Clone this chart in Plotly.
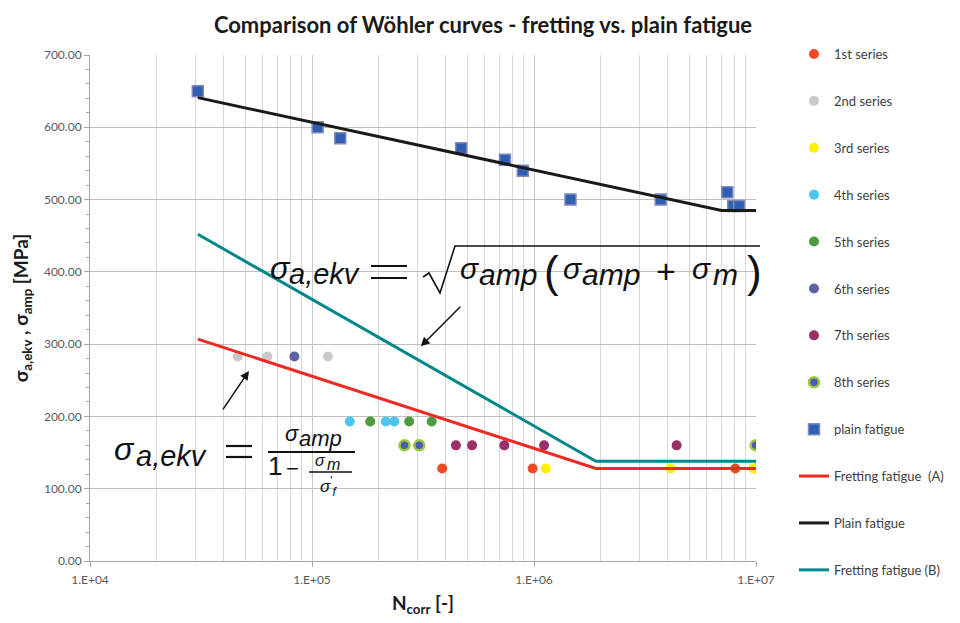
import plotly.graph_objects as go

# ---------------- data ----------------
s1_N = [3.86e5, 9.86e5, 8.07e6, 1.0e7]
s1_S = [128, 128, 128, 128]
s2_N = [4.63e4, 6.3e4, 1.18e5]
s2_S = [283, 283, 283]
s3_N = [1.13e6, 4.13e6, 9.72e6]
s3_S = [128, 128, 128]
s4_N = [1.48e5, 2.15e5, 2.35e5]
s4_S = [193, 193, 193]
s5_N = [1.83e5, 2.74e5, 3.46e5]
s5_S = [193, 193, 193]
s6_N = [8.33e4]
s6_S = [283]
s7_N = [4.45e5, 5.26e5, 7.35e5, 1.11e6, 4.39e6]
s7_S = [160, 160, 160, 160, 160]
s8_N = [2.61e5, 3.04e5, 9.96e6]
s8_S = [160, 160, 160]
plain_N = [3.06e4, 1.06e5, 1.34e5, 4.7e5, 7.4e5, 8.9e5, 1.46e6, 3.72e6, 7.43e6, 7.9e6, 8.4e6]
plain_S = [650, 600, 585, 571, 555, 540, 500, 500, 510, 491, 491]

fretA_N = [3.06e4, 1.9e6, 1.0e7]
fretA_S = [307, 128, 128]
plainL_N = [3.06e4, 7.0e6, 1.0e7]
plainL_S = [641, 485, 485]
fretB_N = [3.06e4, 1.9e6, 1.0e7]
fretB_S = [452, 138, 138]

x_major = [1e4, 1e5, 1e6, 1e7]
x_major_text = ["1.E+04", "1.E+05", "1.E+06", "1.E+07"]
x_minor = [m * 10**k for k in range(4, 7) for m in range(2, 10)]

FONT = "Lato"
MATH = "Liberation Sans, Arial, sans-serif"
fig = go.Figure()

def dots(name, N, S, color, line_color=None, line_width=0):
    fig.add_trace(go.Scatter(
        x=N, y=S, mode="markers", name=name, legendgroup=name,
        marker=dict(symbol="circle", size=10, color=color,
                    line=dict(color=line_color or color, width=line_width))))

dots("1st series", s1_N, s1_S, "#F04A25")
dots("2nd series", s2_N, s2_S, "#C9C9C9")
dots("3rd series", s3_N, s3_S, "#FFF000")
dots("4th series", s4_N, s4_S, "#4CC6EE")
dots("5th series", s5_N, s5_S, "#4E9A40")
dots("6th series", s6_N, s6_S, "#5F61A6")
dots("7th series", s7_N, s7_S, "#9A3068")
dots("8th series", s8_N, s8_S, "#4A5DB3", "#9CC83E", 2.5)

fig.add_trace(go.Scatter(
    x=plain_N, y=plain_S, mode="markers", name="plain fatigue", legendgroup="plain fatigue",
    marker=dict(symbol="square", size=11, color="#2F5FB3", line=dict(color="#8088BC", width=1.5))))

def curve(name, N, S, color):
    fig.add_trace(go.Scatter(x=N, y=S, mode="lines", name=name, legendgroup=name,
                             line=dict(color=color, width=3)))

curve("Fretting fatigue  (A)", fretA_N, fretA_S, "#EE2A24")
curve("Plain fatigue", plainL_N, plainL_S, "#1A1A1A")
curve("Fretting fatigue (B)", fretB_N, fretB_S, "#00878A")

# ------------- layout helpers (pixel -> paper) -------------
L, R, T, B = 90, 756, 55, 561
def px(x):
    return (x - L) / (R - L)
def py(y):
    return (B - y) / (B - T)

anns = []
def txt(s, x, y, size, anchor="left"):
    anns.append(dict(text=s, x=px(x), y=py(y), xref="paper", yref="paper",
                     xanchor=anchor, yanchor="middle", showarrow=False,
                     font=dict(family=MATH, size=size, color="#111111")))

shapes = []
def seg(x0, y0, x1, y1, w=2):
    shapes.append(dict(type="line", xref="paper", yref="paper",
                       x0=px(x0), x1=px(x1), y0=py(y0), y1=py(y1),
                       line=dict(color="#111111", width=w)))

# top formula
txt("<i>σ</i>", 268, 268, 32)
txt("<i>a,ekv</i>", 287, 274, 29)
seg(371, 266, 407, 266, 2.2)
seg(371, 278, 407, 278, 2.2)
txt("<i>σ</i>", 458, 268, 30)
txt("<i>amp</i>", 477, 274, 30)
txt("(", 542, 271, 44)
txt("<i>σ</i>", 561, 268, 30)
txt("<i>amp</i>", 580, 274, 30)
txt("+", 654, 271, 34)
txt("<i>σ</i>", 690, 268, 30)
txt("<i>m</i>", 711, 274, 30)
txt(")", 745, 271, 44)
shapes.append(dict(type="path", xref="paper", yref="paper",
                   path=f"M {px(423)} {py(277)} L {px(429)} {py(273)} L {px(440)} {py(293)} "
                        f"L {px(455)} {py(246)} L {px(760)} {py(246)}",
                   line=dict(color="#111111", width=1.6)))

# bottom formula
txt("<i>σ</i>", 112, 449, 32)
txt("<i>a,ekv</i>", 134, 456, 29)
seg(226, 446, 252, 446, 2.2)
seg(226, 457, 252, 457, 2.2)
txt("<i>σ</i>", 283, 433, 22)
txt("<i>amp</i>", 297, 438, 22)
seg(268, 452, 355, 452, 2)
txt("1", 266, 466, 26)
txt("−", 284, 468, 22)
txt("<i>σ</i>", 313, 460, 16)
txt("<i>m</i>", 325, 464, 16)
seg(309, 472, 352, 472, 1.5)
txt("<i>σ</i><sup>'</sup><sub><i>f</i></sub>", 318, 486, 17)

# arrows (head in data coordinates of log axis)
anns.append(dict(x=5.49, y=297, xref="x", yref="y", ax=41, ay=-41, text="",
                 showarrow=True, arrowhead=2, arrowsize=1.2, arrowwidth=1.5, arrowcolor="#111111"))
anns.append(dict(x=4.716, y=263, xref="x", yref="y", ax=-27, ay=40, text="",
                 showarrow=True, arrowhead=2, arrowsize=1.2, arrowwidth=1.5, arrowcolor="#111111"))

fig.update_layout(
    width=960, height=623,
    margin=dict(l=L, r=960 - R, t=T, b=623 - B, autoexpand=False),
    paper_bgcolor="white", plot_bgcolor="white",
    title=dict(text="<b>Comparison of Wöhler curves - fretting vs. plain fatigue</b>",
               x=px(483), xref="paper", xanchor="center", y=1 - 25 / 623, yanchor="middle",
               font=dict(family=FONT, size=22, color="#1A1A1A")),
    xaxis=dict(type="log", range=[4, 7],
               tickvals=x_major, ticktext=x_major_text,
               ticks="outside", ticklen=5, tickcolor="#A6A6A6", ticklabelstandoff=3,
               showgrid=True, gridcolor="#C8C8C8", gridwidth=1,
               showline=True, linecolor="#A6A6A6", linewidth=1,
               zeroline=False, automargin=False,
               minor=dict(tickvals=x_minor, showgrid=True, gridcolor="#D6D6D6", gridwidth=1, ticks=""),
               tickfont=dict(family=FONT, size=12, color="#595959"),
               title=dict(text="<b>N<sub>corr</sub> [-]</b>", standoff=10,
                          font=dict(family=FONT, size=19, color="#1A1A1A"))),
    yaxis=dict(range=[0, 700], dtick=100, tickformat=".2f",
               ticks="outside", ticklen=5, tickcolor="#A6A6A6",
               showgrid=True, gridcolor="#BFBFBF", gridwidth=1,
               showline=True, linecolor="#A6A6A6", linewidth=1,
               zeroline=False, automargin=False,
               minor=dict(dtick=20, ticks="outside", ticklen=3, tickcolor="#A6A6A6", showgrid=False),
               tickfont=dict(family=FONT, size=12, color="#595959"),
               title=dict(text="<b>σ<sub>a,ekv</sub> , σ<sub>amp</sub> [MPa]</b>", standoff=10,
                          font=dict(family=FONT, size=19, color="#1A1A1A"))),
    legend=dict(x=px(794), xanchor="left", y=py(39), yanchor="top",
                traceorder="grouped", tracegroupgap=27, maxheight=620,
                font=dict(family=FONT, size=13, color="#404040"),
                bgcolor="rgba(0,0,0,0)", itemwidth=30),
    annotations=anns,
    shapes=shapes,
)

fig.write_html("out.html")
